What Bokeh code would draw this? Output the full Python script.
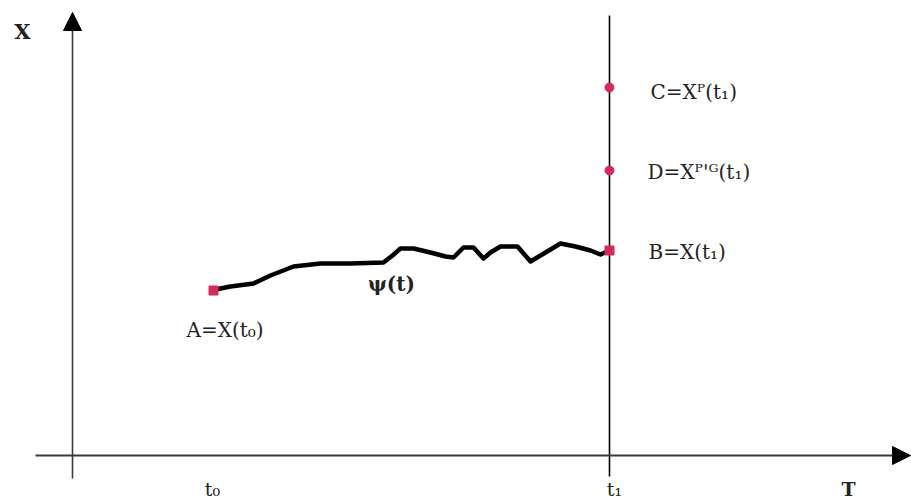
from bokeh.plotting import figure
from bokeh.models import Range1d, Arrow, NormalHead, Label
from bokeh.embed import file_html
from bokeh.resources import INLINE

# ---- data (time t horizontally, state X vertically; origin at the axes' crossing) ----
t_axis = [-37, 838]          # horizontal T axis extent
x_axis = [-23, 443]          # vertical X axis extent
t0 = 141
t1 = 537
t1_line = [-21, 440]         # vertical line at t1

psi_t = [143, 158, 181, 198, 221, 248, 278, 311, 320, 328, 341, 358, 373, 381,
         391, 401, 411, 418, 428, 445, 458, 473, 488, 503, 518, 528, 537]
psi_x = [166, 169, 172, 180, 189, 192, 192, 193, 200, 207, 207, 203, 199, 198,
         208, 208, 197, 203, 209, 209, 194, 203, 212, 209, 205, 201, 205]

sq_t = [t0, t1]              # A and B
sq_x = [165, 205]
dot_t = [t1, t1]             # C and D
dot_x = [368, 285]

point_labels = ["A=X(t₀)", "B=X(t₁)", "C=Xᴾ(t₁)", "D=Xᴾ'ᴳ(t₁)"]
tick_labels = ["t₀", "t₁"]

RED = "#d42a5c"
SERIF = "DejaVu Serif"

p = figure(width=911, height=501, x_range=Range1d(-72, 839), y_range=Range1d(-46, 455),
           output_backend="svg", toolbar_location=None,
           x_axis_type=None, y_axis_type=None, min_border=0)
p.grid.visible = False
p.outline_line_color = None
p.background_fill_color = "white"
p.border_fill_color = "white"

# axes with arrow heads
p.add_layout(Arrow(end=NormalHead(size=18, fill_color="black", line_color="black"),
                   x_start=t_axis[0], y_start=0, x_end=t_axis[1], y_end=0,
                   line_width=2, line_color="#3a3a3a"))
p.add_layout(Arrow(end=NormalHead(size=18, fill_color="black", line_color="black"),
                   x_start=0, y_start=x_axis[0], x_end=0, y_end=x_axis[1],
                   line_width=1.6, line_color="#3a3a3a"))

# vertical line at t1
p.segment(x0=[t1], y0=[t1_line[0]], x1=[t1], y1=[t1_line[1]], line_color="black", line_width=1.6)

# trajectory psi(t)
p.line(psi_t, psi_x, line_color="black", line_width=4.5, line_join="round")

# points
p.scatter(sq_t, sq_x, marker="square", size=9, fill_color=RED, line_color=RED)
p.scatter(dot_t, dot_x, marker="circle", size=9, fill_color=RED, line_color=RED)

def lab(x, y, text, size="20px", align="left", style="normal"):
    p.add_layout(Label(x=x, y=y, text=text, text_font=SERIF, text_font_size=size,
                       text_align=align, text_baseline="middle", text_color="#222",
                       text_font_style=style))

lab(-50, 424, "X", size="21px", align="center", style="bold")
lab(776, -33, "T", size="19px", align="center", style="bold")
lab(t0 - 1, -33, tick_labels[0], size="19px", align="center")
lab(t1 + 5, -33, tick_labels[1], size="19px", align="center")
lab(114, 126, point_labels[0])
lab(576, 204, point_labels[1])
lab(578, 364, point_labels[2])
lab(575, 284, point_labels[3])
lab(319, 172, "ψ(t)", size="20px", align="center", style="bold")

open("out.html", "w").write(file_html(p, INLINE))
